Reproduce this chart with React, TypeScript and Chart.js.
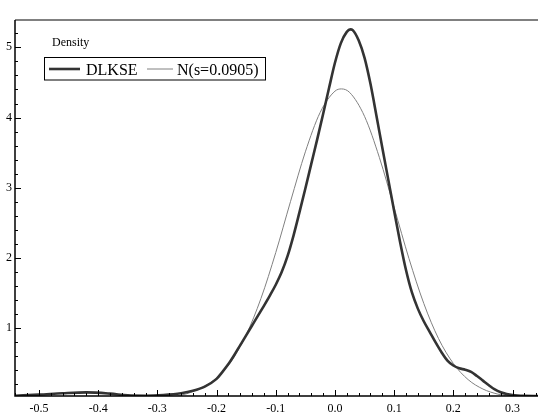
import React, { useEffect, useRef } from "react";
import { Chart, registerables } from "chart.js";

Chart.register(...registerables);

// ---- data ----
const SERIES_LABELS = ["DLKSE", "N(s=0.0905)"];
const Y_TITLE = "Density";

const DLKSE_X = [
  -0.54, -0.5, -0.46, -0.42, -0.38, -0.35, -0.32, -0.29, -0.26, -0.24, -0.22,
  -0.2, -0.19, -0.18, -0.17, -0.16, -0.15, -0.14, -0.13, -0.12, -0.11, -0.1,
  -0.09, -0.08, -0.07, -0.06, -0.05, -0.04, -0.03, -0.02, -0.01, 0, 0.01, 0.02,
  0.026, 0.03, 0.04, 0.05, 0.06, 0.07, 0.08, 0.09, 0.1, 0.11, 0.12, 0.13, 0.14,
  0.15, 0.16, 0.17, 0.18, 0.19, 0.2, 0.21, 0.22, 0.23, 0.24, 0.25, 0.26, 0.27,
  0.28, 0.29, 0.3, 0.32, 0.343,
];
const DLKSE_Y = [
  0.04, 0.055, 0.075, 0.088, 0.07, 0.045, 0.04, 0.05, 0.075, 0.11, 0.17, 0.28,
  0.38, 0.49, 0.62, 0.76, 0.9, 1.04, 1.18, 1.32, 1.465, 1.62, 1.8, 2.03, 2.32,
  2.65, 2.99, 3.34, 3.69, 4.05, 4.42, 4.78, 5.06, 5.22, 5.256, 5.245, 5.1, 4.85,
  4.48, 4.03, 3.57, 3.12, 2.67, 2.23, 1.83, 1.51, 1.28, 1.1, 0.95, 0.8, 0.66,
  0.54, 0.47, 0.43, 0.41, 0.38, 0.32, 0.255, 0.19, 0.13, 0.09, 0.065, 0.05,
  0.038, 0.035,
];

const NORMAL_X = [
  -0.54, -0.4, -0.3, -0.25, -0.2, -0.175, -0.15, -0.125, -0.1, -0.075, -0.05,
  -0.025, 0, 0.011, 0.025, 0.05, 0.075, 0.1, 0.125, 0.15, 0.175, 0.2, 0.225,
  0.25, 0.275, 0.3, 0.343,
];
const NORMAL_Y = [
  0, 0.0003, 0.012, 0.069, 0.291, 0.533, 0.906, 1.425, 2.078, 2.807, 3.512,
  4.073, 4.376, 4.408, 4.356, 4.017, 3.433, 2.718, 1.994, 1.355, 0.853, 0.499,
  0.269, 0.135, 0.063, 0.027, 0.005,
];

const X_TICKS = [-0.5, -0.4, -0.3, -0.2, -0.1, 0, 0.1, 0.2, 0.3];
const X_TICK_LABELS = ["-0.5", "-0.4", "-0.3", "-0.2", "-0.1", "0.0", "0.1", "0.2", "0.3"];
const X_MINOR_STEP = 0.02;
const Y_TICKS = [1, 2, 3, 4, 5];
const Y_TICK_LABELS = ["1", "2", "3", "4", "5"];
const Y_MINOR_STEP = 0.2;

const X_MIN = -0.5405;
const X_MAX = 0.343;
const Y_MIN = 0.036;
const Y_MAX = 5.389;

const FONT = "'Liberation Serif', 'Times New Roman', serif";
Chart.defaults.font.family = FONT;

function toPoints(xs: number[], ys: number[]) {
  return xs.map((x, i) => ({ x, y: ys[i] }));
}

const framePlugin = {
  id: "frame",
  afterDatasetsDraw(chart: any) {
    const { ctx, chartArea, scales } = chart;
    const { left, right, top, bottom } = chartArea;
    const xs = scales.x;
    const ys = scales.y;
    ctx.save();

    // top border (gray)
    ctx.strokeStyle = "#808080";
    ctx.lineWidth = 2;
    ctx.beginPath();
    ctx.moveTo(left, top);
    ctx.lineTo(right, top);
    ctx.stroke();

    // axes
    ctx.strokeStyle = "#000";
    ctx.lineWidth = 1.5;
    ctx.beginPath();
    ctx.moveTo(left, top);
    ctx.lineTo(left, bottom);
    ctx.lineTo(right, bottom);
    ctx.stroke();

    // ticks (inside)
    ctx.lineWidth = 1;
    ctx.beginPath();
    const isMajor = (v: number, majors: number[]) =>
      majors.some((m) => Math.abs(m - v) < 1e-6);
    for (
      let k = Math.ceil(X_MIN / X_MINOR_STEP);
      k <= Math.floor(X_MAX / X_MINOR_STEP);
      k++
    ) {
      const v = k * X_MINOR_STEP;
      const px = Math.round(xs.getPixelForValue(v)) + 0.5;
      const len = isMajor(v, X_TICKS) ? 6 : 3;
      ctx.moveTo(px, bottom);
      ctx.lineTo(px, bottom - len);
    }
    for (
      let k = Math.ceil(Y_MIN / Y_MINOR_STEP);
      k <= Math.floor(Y_MAX / Y_MINOR_STEP);
      k++
    ) {
      const v = k * Y_MINOR_STEP;
      const py = Math.round(ys.getPixelForValue(v)) + 0.5;
      const len = isMajor(v, Y_TICKS) ? 6 : 3;
      ctx.moveTo(left, py);
      ctx.lineTo(left + len, py);
    }
    ctx.stroke();

    // y title inside plot
    ctx.fillStyle = "#000";
    ctx.font = `12px ${FONT}`;
    ctx.textBaseline = "alphabetic";
    ctx.textAlign = "left";
    ctx.fillText(Y_TITLE, 52, 46);

    // legend
    const ds = chart.data.datasets;
    ctx.lineWidth = 1;
    ctx.strokeStyle = "#000";
    ctx.strokeRect(44.5, 57.5, 221, 22.5);
    const ly = 69;
    ctx.font = `16px ${FONT}`;
    ctx.strokeStyle = ds[0].borderColor;
    ctx.lineWidth = ds[0].borderWidth;
    ctx.beginPath();
    ctx.moveTo(49, ly);
    ctx.lineTo(80, ly);
    ctx.stroke();
    ctx.fillText(ds[0].label, 86, 74.5);
    ctx.strokeStyle = ds[1].borderColor;
    ctx.lineWidth = ds[1].borderWidth;
    ctx.beginPath();
    ctx.moveTo(147, ly);
    ctx.lineTo(173, ly);
    ctx.stroke();
    ctx.fillText(ds[1].label, 177, 74.5);

    ctx.restore();
  },
};

export default function App() {
  const ref = useRef<HTMLCanvasElement | null>(null);

  useEffect(() => {
    if (!ref.current) return;
    const chart = new Chart(ref.current, {
      type: "line",
      data: {
        datasets: [
          {
            label: SERIES_LABELS[0],
            data: toPoints(DLKSE_X, DLKSE_Y),
            borderColor: "#333333",
            borderWidth: 2.6,
            pointRadius: 0,
            fill: false,
            cubicInterpolationMode: "monotone",
          },
          {
            label: SERIES_LABELS[1],
            data: toPoints(NORMAL_X, NORMAL_Y),
            borderColor: "#808080",
            borderWidth: 1,
            pointRadius: 0,
            fill: false,
            cubicInterpolationMode: "monotone",
          },
        ],
      },
      options: {
        animation: false,
        responsive: false,
        maintainAspectRatio: false,
        parsing: false as any,
        layout: { padding: { top: 20, left: 0, right: 0, bottom: 0 } },
        plugins: {
          legend: { display: false },
          tooltip: { enabled: false },
        },
        scales: {
          x: {
            type: "linear",
            min: X_MIN,
            max: X_MAX,
            grid: { display: false, drawTicks: false },
            border: { display: false },
            ticks: {
              padding: 6,
              color: "#000",
              font: { family: FONT, size: 12 },
              maxRotation: 0,
              autoSkip: false,
              callback: (_v: any, i: number) => X_TICK_LABELS[i],
            },
            afterBuildTicks: (s: any) => {
              s.ticks = X_TICKS.map((value) => ({ value }));
            },
            afterFit: (s: any) => {
              s.height = 19;
            },
          },
          y: {
            type: "linear",
            min: Y_MIN,
            max: Y_MAX,
            grid: { display: false, drawTicks: false },
            border: { display: false },
            ticks: {
              padding: 3,
              color: "#000",
              font: { family: FONT, size: 12 },
              autoSkip: false,
              callback: (_v: any, i: number) => Y_TICK_LABELS[i],
            },
            afterBuildTicks: (s: any) => {
              s.ticks = Y_TICKS.map((value) => ({ value }));
            },
            afterFit: (s: any) => {
              s.width = 15;
            },
          },
        },
      },
      plugins: [framePlugin],
    });
    return () => chart.destroy();
  }, []);

  return (
    <canvas
      ref={ref}
      width={538}
      height={415}
      style={{ position: "absolute", left: 0, top: 0, width: 538, height: 415, display: "block" }}
    />
  );
}
